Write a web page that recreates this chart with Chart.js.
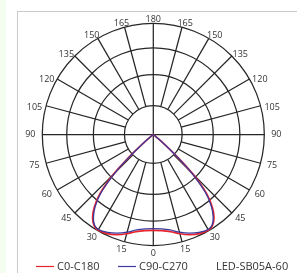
<!DOCTYPE html>
<html>
<head>
<meta charset="utf-8">
<script src="https://cdn.jsdelivr.net/npm/chart.js@4"></script>
<style>
  html, body { margin: 0; padding: 0; background: #fff; }
  #wrap { position: relative; width: 297px; height: 273px; overflow: hidden; }
  #strip { position: absolute; left: 0; top: 0; width: 6px; height: 273px; background: #f4fdef; }
  #panel { position: absolute; left: 17px; top: 11px; right: -5px; bottom: -5px;
           border-left: 1px solid #c9c9c9; border-top: 1px solid #c9c9c9; }
  canvas { position: absolute; left: 0; top: 0; }
</style>
</head>
<body>
<div id="wrap">
  <div id="strip"></div>
  <div id="panel"></div>
  <canvas id="polarChart" width="297" height="273"></canvas>
</div>
<script>
// Angles from nadir (deg) and relative intensity (outer ring = 100)
const angles = [0, 5, 10, 15, 20, 25, 30, 33, 36, 39, 42, 45, 47, 49, 51, 55, 60, 70, 80, 90];
const c0c180 = [86.3, 86.9, 88.8, 92.6, 96.1, 98.6, 99.4, 97.9, 93, 84.6, 72, 50.5, 30.5, 12.5, 3, 1, 0.5, 0.5, 0.5, 0.5];
const c90c270 = [84.8, 85.4, 87.3, 91.1, 94.6, 97.3, 98.8, 97.3, 91.8, 83, 70, 48.3, 28.3, 11, 2.5, 1, 0.5, 0.5, 0.5, 0.5];

// Grid rings and angle labels
const rings = [26, 54, 78, 100];
const angleLabels = [0, 15, 30, 45, 60, 75, 90, 105, 120, 135, 150, 165, 180];

const legendItems = [
    { text: 'C0-C180', color: '#e8232b' },
    { text: 'C90-C270', color: '#3d3a9e' }
];
const modelName = 'LED-SB05A-60';

// Build x/y points (symmetric curve, left side mirrored)
function toPoints(values) {
    const pts = [];
    for (let i = angles.length - 1; i >= 0; i--) {
        const a = -angles[i] * Math.PI / 180;
        pts.push({ x: values[i] * Math.sin(a), y: -values[i] * Math.cos(a) });
    }
    for (let i = 1; i < angles.length; i++) {
        const a = angles[i] * Math.PI / 180;
        pts.push({ x: values[i] * Math.sin(a), y: -values[i] * Math.cos(a) });
    }
    return pts;
}

const pxPerUnit = 1.11;
const cxPx = 153.3, cyPx = 134.5;

const polarGrid = {
    id: 'polarGrid',
    beforeDatasetsDraw(chart) {
        const ctx = chart.ctx;
        const xs = chart.scales.x, ys = chart.scales.y;
        const cx = xs.getPixelForValue(0), cy = ys.getPixelForValue(0);
        const k = xs.getPixelForValue(1) - cx;
        ctx.save();
        ctx.strokeStyle = '#262626';
        ctx.lineWidth = 1.25;
        rings.forEach(r => {
            ctx.beginPath();
            ctx.arc(cx, cy, r * k, 0, Math.PI * 2);
            ctx.stroke();
        });
        const outer = rings[rings.length - 1];
        for (let d = 0; d < 360; d += 15) {
            const a = d * Math.PI / 180;
            const r0 = d % 90 === 0 ? 0 : rings[0];
            ctx.beginPath();
            ctx.moveTo(cx + Math.sin(a) * r0 * k, cy + Math.cos(a) * r0 * k);
            ctx.lineTo(cx + Math.sin(a) * outer * k, cy + Math.cos(a) * outer * k);
            ctx.stroke();
        }
        // angle labels
        ctx.fillStyle = '#333';
        ctx.font = '9px "Open Sans"';
        ctx.textAlign = 'center';
        ctx.textBaseline = 'middle';
        angleLabels.forEach(d => {
            const a = d * Math.PI / 180;
            const dy = Math.cos(a) * 119 + (d > 90 ? 4 : 0);
            const sides = (d === 0 || d === 180) ? [1] : [-1, 1];
            sides.forEach(s => {
                ctx.fillText(String(d), cx + s * Math.sin(a) * 123, cy + dy);
            });
        });
        ctx.restore();
    },
    afterDraw(chart) {
        const ctx = chart.ctx;
        ctx.save();
        ctx.font = '11px "Open Sans"';
        ctx.textBaseline = 'middle';
        const y = 266.5;
        const starts = [36, 118];
        legendItems.forEach((item, i) => {
            const x0 = starts[i];
            ctx.strokeStyle = item.color;
            ctx.lineWidth = 1.2;
            ctx.beginPath();
            ctx.moveTo(x0, y);
            ctx.lineTo(x0 + 18, y);
            ctx.stroke();
            ctx.fillStyle = '#333';
            ctx.fillText(item.text, x0 + 21, y);
        });
        ctx.fillStyle = '#333';
        ctx.fillText(modelName, 216, y);
        ctx.restore();
    }
};

const W = 297, H = 273;
new Chart(document.getElementById('polarChart').getContext('2d'), {
    type: 'scatter',
    data: {
        datasets: [{
            label: legendItems[0].text,
            data: toPoints(c0c180),
            showLine: true,
            borderColor: legendItems[0].color,
            borderWidth: 1.7,
            pointRadius: 0,
            tension: 0.25,
            order: 2
        }, {
            label: legendItems[1].text,
            data: toPoints(c90c270),
            showLine: true,
            borderColor: legendItems[1].color,
            borderWidth: 1.3,
            pointRadius: 0,
            tension: 0.25,
            order: 1
        }]
    },
    options: {
        responsive: false,
        animation: false,
        devicePixelRatio: 1,
        layout: { padding: 0 },
        plugins: {
            legend: { display: false },
            tooltip: { enabled: false }
        },
        scales: {
            x: {
                display: false,
                min: -cxPx / pxPerUnit,
                max: (W - cxPx) / pxPerUnit
            },
            y: {
                display: false,
                min: -(H - cyPx) / pxPerUnit,
                max: cyPx / pxPerUnit
            }
        }
    },
    plugins: [polarGrid]
});
</script>
</body>
</html>
